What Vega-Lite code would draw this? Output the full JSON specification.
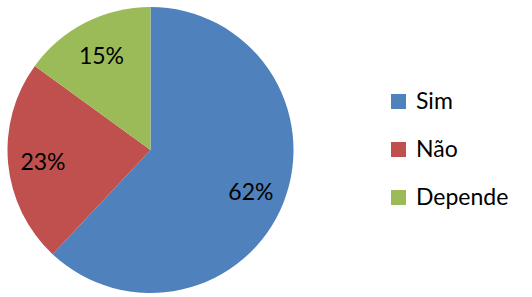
{
  "$schema": "https://vega.github.io/schema/vega-lite/v6.json",
  "width": 301,
  "height": 300,
  "padding": 0,
  "background": "white",
  "data": {
    "values": [
      {"resposta": "Sim", "valor": 62, "ord": 1, "rotulo": "62%"},
      {"resposta": "Não", "valor": 23, "ord": 2, "rotulo": "23%"},
      {"resposta": "Depende", "valor": 15, "ord": 3, "rotulo": "15%"}
    ]
  },
  "encoding": {
    "theta": {"field": "valor", "type": "quantitative", "stack": true},
    "order": {"field": "ord", "type": "quantitative"}
  },
  "layer": [
    {
      "mark": {"type": "arc", "outerRadius": 143},
      "encoding": {
        "color": {
          "field": "resposta",
          "type": "nominal",
          "sort": ["Sim", "Não", "Depende"],
          "scale": {"domain": ["Sim", "Não", "Depende"], "range": ["#4F81BD", "#C0504D", "#9BBB59"]},
          "legend": {
            "title": null,
            "orient": "none",
            "legendX": 387,
            "legendY": 90,
            "padding": 0,
            "symbolType": "square",
            "symbolSize": 225,
            "symbolStrokeWidth": 0,
            "labelFontSize": 23,
            "labelFont": "Lato",
            "labelColor": "#000000",
            "labelOffset": 6,
            "rowPadding": 24
          }
        }
      }
    },
    {
      "mark": {"type": "text", "radius": 108, "font": "Lato", "fontSize": 23, "color": "#000000", "baseline": "middle", "dy": 3},
      "encoding": {
        "text": {"field": "rotulo", "type": "nominal"}
      }
    }
  ],
  "config": {"view": {"stroke": null}}
}
